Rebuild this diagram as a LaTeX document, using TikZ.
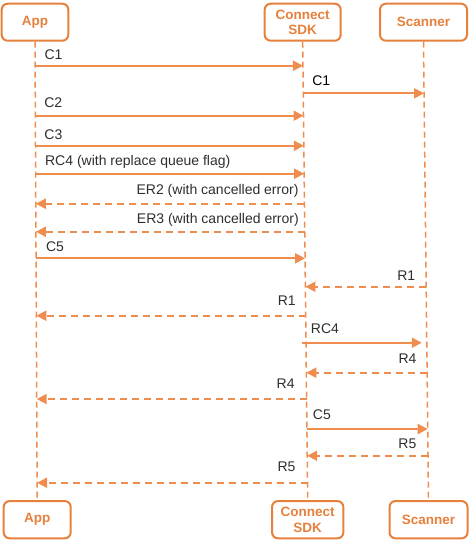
\documentclass[tikz,border=0pt]{standalone}
\usepackage{fontspec}
\setmainfont{Liberation Sans}
\usetikzlibrary{calc,arrows.meta}
\definecolor{boxc}{HTML}{E6803C}
\definecolor{arrc}{HTML}{EE8D4D}
\definecolor{txt}{HTML}{2E2E2E}
\begin{document}
\begin{tikzpicture}[x=1pt,y=-1pt,
  actor/.style={draw=boxc,line width=2pt,rounded corners=6pt,text=boxc,
    font=\fontsize{13.5}{15.5}\selectfont\bfseries,align=center,inner sep=0pt},
  life/.style={draw=arrc,line width=1.5pt,dash pattern=on 6pt off 4pt},
  call/.style={draw=arrc,line width=2pt,-{Triangle[length=10pt,width=10pt]}},
  ret/.style={call,dash pattern=on 7pt off 5pt},
  lbl/.style={text=txt,font=\fontsize{14}{16}\selectfont,inner sep=0pt},
  lblL/.style={lbl,pos=0,anchor=base west},
  lblR/.style={lbl,pos=0,anchor=base east}]
\useasboundingbox (0,0) rectangle (469,547);
% actors
\node[actor,minimum width=66.6pt,minimum height=37pt] (appT) at (35,22.2) {App};
\node[actor,minimum width=76pt,minimum height=37pt] (sdkT) at (302.7,22.2) {Connect\\SDK};
\node[actor,minimum width=87pt,minimum height=37pt] (scanT) at (423.5,22.2) {Scanner};
\node[actor,minimum width=67pt,minimum height=37.3pt] (appB) at (37.2,519.7) {App};
\node[actor,minimum width=71.3pt,minimum height=37.3pt] (sdkB) at (307.7,519.7) {Connect\\SDK};
\node[actor,minimum width=78pt,minimum height=37.3pt] (scanB) at (428.5,519.7) {Scanner};
% lifelines
\draw[life] (appT.south) -- (appB.north);
\draw[life] (sdkT.south) -- (sdkB.north);
\draw[life] (scanT.south) -- (scanB.north);
% message end points on the lifelines
\foreach \n/\f/\t/\y in {1/app/sdk/65.7, 2/sdk/scan/93.3, 3/app/sdk/115.7, 4/app/sdk/145.7,
  5/app/sdk/173.7, 6/sdk/app/203.7, 7/sdk/app/231.7, 8/app/sdk/258.3, 9/scan/sdk/286.7,
  10/sdk/app/315.7, 11/sdk/scan/342.7, 12/scan/sdk/372.7, 13/sdk/app/399, 14/sdk/scan/429,
  15/scan/sdk/455.7, 16/sdk/app/482.7}{
  \coordinate (s\n) at ($(\f T.south)!{(\y-41.7)/458.3}!(\f B.north)$);
  \coordinate (e\n) at ($(\t T.south)!{(\y-41.7)/458.3}!(\t B.north)$);
}
% messages
\draw[call] (s1) -- (e1) node[lblL,xshift=8.5pt,yshift=6pt] {C1};
\draw[call] (s2) -- (e2) node[lblL,xshift=8pt,yshift=8pt,text=black] {C1};
\draw[call] (s3) -- (e3) node[lblL,xshift=8pt,yshift=8.4pt] {C2};
\draw[call] (s4) -- (e4) node[lblL,xshift=8pt,yshift=6pt] {C3};
\draw[call] (s5) -- (e5) node[lblL,xshift=8.5pt,yshift=8.5pt] {RC4 (with replace queue flag)};
\draw[ret] (s6) -- (e6) node[lblR,xshift=-5pt,yshift=9pt] {ER2 (with cancelled error)};
\draw[ret] (s7) -- (e7) node[lblR,xshift=-5pt,yshift=8.5pt] {ER3 (with cancelled error)};
\draw[call] (s8) -- (e8) node[lblL,xshift=9pt,yshift=6.6pt] {C5};
\draw[ret] (s9) -- (e9) node[lblR,xshift=-10pt,yshift=6.7pt] {R1};
\draw[ret] (s10) -- (e10) node[lblR,xshift=-9pt,yshift=10.7pt] {R1};
\draw[call] ([xshift=-4pt]s11) -- ([xshift=-5pt]e11) node[lblL,xshift=8pt,yshift=9.3pt] {RC4};
\draw[ret] (s12) -- (e12) node[lblR,xshift=-9.6pt,yshift=9.3pt] {R4};
\draw[ret] (s13) -- (e13) node[lblR,xshift=-11pt,yshift=10.7pt] {R4};
\draw[call] (s14) -- (e14) node[lblL,xshift=5pt,yshift=9.7pt] {C5};
\draw[ret] (s15) -- (e15) node[lblR,xshift=-10.7pt,yshift=7.3pt] {R5};
\draw[ret] (s16) -- (e16) node[lblR,xshift=-11pt,yshift=11pt] {R5};
\end{tikzpicture}
\end{document}
